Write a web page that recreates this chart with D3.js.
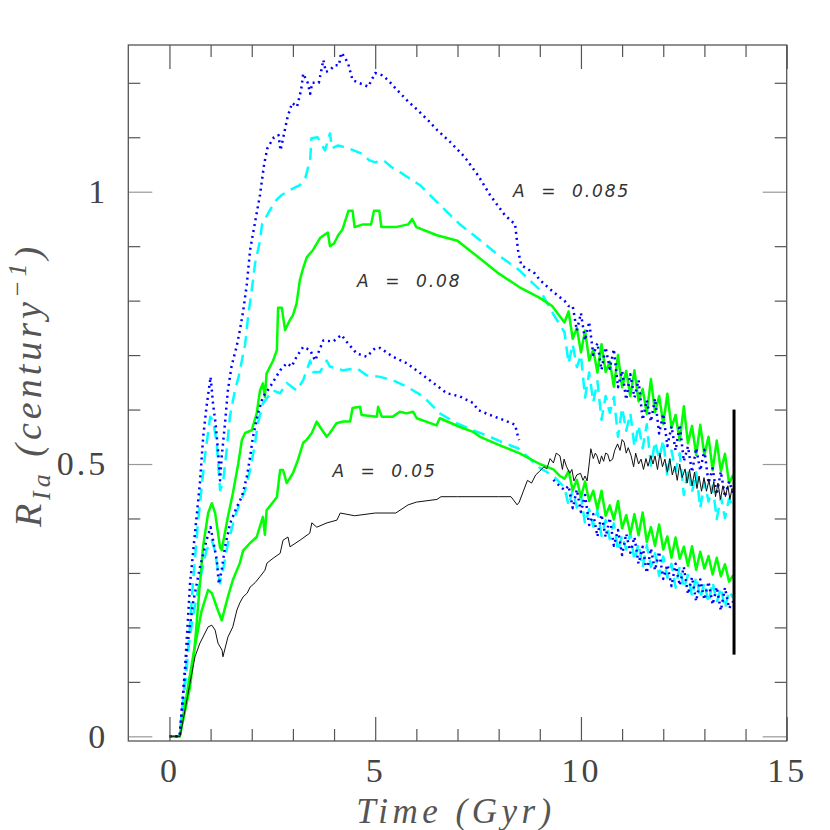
<!DOCTYPE html>
<html>
<head>
<meta charset="utf-8">
<script src="https://cdn.jsdelivr.net/npm/d3@7"></script>
<style>
  body { margin: 0; background: white; }
  .serif { font-family: "Liberation Serif", "Times New Roman", Times, serif; }
</style>
</head>
<body>
<div id="chart"></div>
<script>
// ---- data: [time (Gyr), rate (century^-1)] ----
const blueHighHead = [[0,0],[0.25,0],[0.38,0.127],[0.5,0.28],[0.62,0.373],[0.74,0.465],[0.82,0.55],[0.9,0.605],[1.0,0.66],[1.06,0.61],[1.12,0.575],[1.18,0.525],[1.23,0.47],[1.27,0.513],[1.35,0.575],[1.42,0.635],[1.51,0.68],[1.63,0.715],[1.71,0.745],[1.79,0.78],[1.88,0.83],[1.96,0.893],[2.08,0.944],[2.2,0.994],[2.3,1.05],[2.38,1.08],[2.54,1.10],[2.65,1.104],[2.7,1.076],[2.87,1.137],[2.98,1.163],[3.1,1.156],[3.2,1.187],[3.25,1.217],[3.36,1.20],[3.42,1.18],[3.47,1.20],[3.63,1.20],[3.74,1.242],[3.8,1.22],[3.9,1.223],[4.01,1.232],[4.12,1.232],[4.17,1.255],[4.23,1.25],[4.34,1.236],[4.45,1.205],[4.6,1.20],[4.83,1.193],[5.0,1.218],[5.16,1.214],[5.31,1.205],[5.53,1.187],[5.81,1.165],[6.03,1.15],[6.3,1.13],[6.51,1.113],[6.84,1.09],[7.17,1.064],[7.5,1.03],[7.79,0.994],[8.15,0.957],[8.4,0.94],[8.47,0.893],[8.55,0.865],[8.88,0.85],[9.0,0.838],[9.25,0.821],[9.49,0.806]];
const cyanHighHead = [[0,0],[0.25,0],[0.42,0.122],[0.57,0.28],[0.69,0.39],[0.86,0.513],[0.99,0.587],[1.06,0.58],[1.15,0.538],[1.23,0.452],[1.3,0.465],[1.39,0.525],[1.47,0.587],[1.59,0.635],[1.68,0.66],[1.76,0.69],[1.84,0.72],[1.91,0.77],[2.0,0.82],[2.08,0.868],[2.2,0.91],[2.25,0.94],[2.44,0.966],[2.6,0.985],[2.73,0.994],[2.93,1.003],[3.17,1.012],[3.3,1.025],[3.42,1.058],[3.45,1.098],[3.6,1.10],[3.78,1.076],[3.9,1.107],[3.95,1.08],[4.1,1.085],[4.34,1.08],[4.67,1.07],[4.85,1.058],[5.0,1.054],[5.2,1.058],[5.4,1.045],[5.6,1.036],[6.09,1.012],[6.58,0.975],[7.06,0.94],[7.55,0.911],[8.0,0.883],[8.5,0.856],[9.0,0.82],[9.33,0.775]];
const greenHighHead = [[0,0],[0.25,0],[0.5,0.09],[0.62,0.17],[0.74,0.28],[0.82,0.35],[0.94,0.41],[1.03,0.428],[1.11,0.41],[1.23,0.347],[1.27,0.342],[1.42,0.403],[1.54,0.446],[1.67,0.5],[1.76,0.544],[1.84,0.557],[2.0,0.562],[2.12,0.593],[2.2,0.635],[2.27,0.648],[2.32,0.623],[2.36,0.666],[2.52,0.69],[2.61,0.709],[2.64,0.787],[2.73,0.787],[2.81,0.746],[2.93,0.765],[3.0,0.773],[3.09,0.795],[3.17,0.838],[3.25,0.86],[3.34,0.88],[3.49,0.893],[3.66,0.915],[3.75,0.92],[3.85,0.925],[3.9,0.90],[4.0,0.905],[4.1,0.92],[4.2,0.93],[4.35,0.965],[4.45,0.965],[4.5,0.935],[4.7,0.94],[4.9,0.94],[4.97,0.965],[5.1,0.965],[5.15,0.935],[5.5,0.935],[5.8,0.94],[5.9,0.95],[6.0,0.935],[6.5,0.92],[7.0,0.91],[7.5,0.88],[8.0,0.85],[8.5,0.825],[9.0,0.805],[9.3,0.79],[9.5,0.77]];

const blueLowHead = [[0,0],[0.25,0],[0.42,0.156],[0.57,0.244],[0.74,0.31],[0.9,0.36],[1.0,0.384],[1.06,0.36],[1.15,0.324],[1.2,0.28],[1.27,0.305],[1.35,0.348],[1.47,0.39],[1.63,0.42],[1.76,0.44],[1.88,0.476],[1.96,0.513],[2.03,0.55],[2.15,0.593],[2.27,0.623],[2.44,0.641],[2.69,0.672],[2.85,0.685],[2.97,0.679],[3.09,0.697],[3.25,0.715],[3.42,0.709],[3.54,0.69],[3.74,0.727],[3.98,0.725],[4.18,0.737],[4.3,0.725],[4.55,0.703],[4.79,0.697],[5.0,0.713],[5.12,0.713],[5.43,0.697],[5.77,0.685],[6.09,0.667],[6.41,0.649],[6.74,0.63],[7.06,0.624],[7.38,0.612],[7.5,0.599],[7.79,0.59],[8.15,0.58],[8.4,0.572],[8.47,0.55],[8.5,0.544]];
const blueLowRestart = [[9.33,0.471],[9.45,0.462]];
const cyanLowHead = [[0,0],[0.25,0],[0.42,0.14],[0.57,0.22],[0.74,0.287],[0.9,0.342],[1.03,0.36],[1.1,0.342],[1.18,0.305],[1.23,0.281],[1.3,0.305],[1.42,0.354],[1.59,0.403],[1.71,0.428],[1.84,0.452],[1.96,0.489],[2.08,0.538],[2.15,0.575],[2.27,0.611],[2.39,0.623],[2.52,0.635],[2.69,0.63],[2.85,0.649],[3.09,0.635],[3.25,0.654],[3.42,0.69],[3.49,0.669],[3.66,0.669],[3.82,0.69],[3.9,0.679],[4.22,0.672],[4.55,0.676],[4.79,0.663],[5.12,0.66],[5.43,0.654],[5.77,0.642],[6.17,0.624],[6.57,0.593],[6.98,0.575],[7.38,0.562],[7.79,0.55],[8.15,0.538],[8.47,0.529],[9.0,0.493],[9.33,0.478],[9.5,0.465]];
const greenLowHead = [[0,0],[0.25,0],[0.57,0.145],[0.78,0.23],[0.94,0.269],[1.03,0.263],[1.15,0.237],[1.27,0.213],[1.42,0.256],[1.54,0.287],[1.71,0.318],[1.79,0.341],[1.96,0.355],[2.12,0.366],[2.27,0.403],[2.32,0.370],[2.36,0.415],[2.61,0.439],[2.69,0.489],[2.76,0.489],[2.85,0.465],[3.0,0.483],[3.12,0.507],[3.25,0.539],[3.33,0.544],[3.46,0.557],[3.58,0.578],[3.66,0.568],[3.82,0.55],[3.9,0.557],[4.06,0.575],[4.22,0.578],[4.39,0.578],[4.45,0.603],[4.63,0.605],[4.67,0.59],[5.04,0.587],[5.07,0.605],[5.16,0.587],[5.43,0.587],[5.6,0.596],[5.76,0.593],[5.92,0.596],[6.01,0.584],[6.49,0.571],[6.57,0.584],[7.06,0.568],[7.38,0.559],[7.55,0.55],[8.0,0.535],[8.5,0.52],[9.0,0.50],[9.33,0.49],[9.49,0.478]];

// noisy late-time parts, sampled every 0.1 Gyr
const tailTimes = [9.6,9.7,9.8,9.9,10.0,10.1,10.2,10.3,10.4,10.5,10.6,10.7,10.8,10.9,11.0,11.1,11.2,11.3,11.4,11.5,11.6,11.7,11.8,11.9,12.0,12.1,12.2,12.3,12.4,12.5,12.6,12.7,12.8,12.9,13.0,13.1,13.2,13.3,13.4,13.5,13.6,13.7];
const greenHighTail = [0.76,0.78,0.73,0.75,0.705,0.745,0.69,0.71,0.668,0.72,0.669,0.688,0.642,0.70,0.641,0.671,0.625,0.672,0.615,0.638,0.592,0.656,0.595,0.625,0.574,0.629,0.567,0.59,0.543,0.606,0.538,0.57,0.517,0.572,0.516,0.55,0.489,0.543,0.487,0.519,0.465,0.48];
const blueHighTail = [0.80,0.79,0.79,0.745,0.777,0.727,0.761,0.70,0.722,0.673,0.714,0.675,0.711,0.641,0.671,0.618,0.665,0.622,0.654,0.581,0.617,0.578,0.62,0.556,0.592,0.533,0.569,0.525,0.572,0.505,0.532,0.485,0.529,0.488,0.526,0.465,0.492,0.444,0.486,0.44,0.468,0.447];
const cyanHighTail = [0.742,0.685,0.72,0.678,0.70,0.622,0.668,0.614,0.652,0.581,0.625,0.594,0.623,0.55,0.603,0.561,0.593,0.532,0.571,0.529,0.573,0.497,0.541,0.51,0.544,0.477,0.525,0.487,0.52,0.443,0.49,0.448,0.485,0.419,0.467,0.431,0.46,0.399,0.44,0.401,0.436,0.422];
const greenLowTail = [0.473,0.487,0.452,0.471,0.439,0.468,0.432,0.451,0.417,0.451,0.405,0.424,0.398,0.432,0.382,0.406,0.372,0.408,0.369,0.411,0.357,0.384,0.35,0.389,0.343,0.367,0.328,0.365,0.326,0.348,0.313,0.349,0.306,0.339,0.308,0.331,0.297,0.328,0.294,0.316,0.284,0.296];
const cyanLowTail = [0.457,0.424,0.452,0.42,0.442,0.39,0.417,0.385,0.414,0.368,0.397,0.362,0.391,0.34,0.369,0.343,0.373,0.323,0.354,0.31,0.351,0.311,0.336,0.295,0.33,0.291,0.317,0.273,0.312,0.272,0.296,0.257,0.293,0.254,0.282,0.245,0.283,0.246,0.273,0.235,0.267,0.254];
const blueLowTail = [0.452,0.46,0.419,0.453,0.412,0.443,0.388,0.408,0.367,0.407,0.366,0.401,0.35,0.379,0.333,0.372,0.337,0.366,0.317,0.348,0.30,0.345,0.305,0.339,0.289,0.315,0.276,0.317,0.277,0.311,0.261,0.292,0.248,0.288,0.251,0.284,0.242,0.274,0.231,0.273,0.235,0.248];

const blackRate = [[0,0],[0.26,0],[0.5,0.098],[0.62,0.146],[0.74,0.171],[0.94,0.201],[1.03,0.204],[1.11,0.195],[1.18,0.171],[1.28,0.158],[1.3,0.146],[1.42,0.182],[1.54,0.201],[1.64,0.232],[1.71,0.245],[1.79,0.256],[1.89,0.263],[1.96,0.274],[2.08,0.282],[2.2,0.293],[2.32,0.305],[2.37,0.318],[2.52,0.327],[2.69,0.336],[2.76,0.36],[2.88,0.366],[2.93,0.348],[3.17,0.36],[3.41,0.373],[3.46,0.392],[3.58,0.384],[3.83,0.392],[4.07,0.397],[4.15,0.41],[4.5,0.405],[5.0,0.41],[5.5,0.41],[5.8,0.425],[6.0,0.43],[6.5,0.435],[6.6,0.44],[7.0,0.44],[7.5,0.44],[8.0,0.44],[8.3,0.44],[8.45,0.425],[8.5,0.43],[8.6,0.45],[8.7,0.47],[8.8,0.465],[8.9,0.48],[9.0,0.487],[9.1,0.495],[9.17,0.491],[9.25,0.51],[9.33,0.502],[9.4,0.52],[9.49,0.515],[9.55,0.49],[9.59,0.509],[9.65,0.495],[9.73,0.483],[9.78,0.49],[9.83,0.469],[9.9,0.48],[9.99,0.483],[10.05,0.47],[10.1,0.478],[10.15,0.469],[10.2,0.50],[10.24,0.528],[10.3,0.51],[10.35,0.52],[10.39,0.515],[10.45,0.50],[10.5,0.515],[10.55,0.505],[10.6,0.52],[10.65,0.518],[10.7,0.505],[10.77,0.509],[10.82,0.525],[10.89,0.537],[10.95,0.525],[11.0,0.545],[11.05,0.54],[11.1,0.52],[11.15,0.53],[11.22,0.515],[11.28,0.495],[11.33,0.52],[11.4,0.5],[11.46,0.509],[11.52,0.49],[11.58,0.51],[11.63,0.496],[11.7,0.515],[11.75,0.5],[11.8,0.515],[11.86,0.49],[11.92,0.52],[11.98,0.495],[12.04,0.509],[12.1,0.485],[12.16,0.51],[12.22,0.48],[12.28,0.496],[12.34,0.47],[12.4,0.5],[12.46,0.475],[12.53,0.491],[12.58,0.465],[12.64,0.49],[12.7,0.46],[12.76,0.485],[12.82,0.455],[12.87,0.478],[12.93,0.45],[12.99,0.475],[13.05,0.45],[13.11,0.47],[13.17,0.445],[13.23,0.468],[13.27,0.44],[13.33,0.465],[13.39,0.435],[13.45,0.46],[13.51,0.44],[13.57,0.46],[13.62,0.435],[13.67,0.455],[13.72,0.447]];

// observed range (vertical bar)
const obsTime = 13.72;
const obsRange = [0.15, 0.6];

const labels = [
  {text: "A  =  0.085", t: 8.35, r: 0.99},
  {text: "A  =  0.08", t: 4.56, r: 0.825},
  {text: "A  =  0.05", t: 3.96, r: 0.476}
];

const xMajor = [0, 5, 10, 15];
const xMinor = [1, 2, 3, 4, 6, 7, 8, 9, 11, 12, 13, 14];
const yMajor = [0, 0.5, 1];
const yMinor = [0.1, 0.2, 0.3, 0.4, 0.6, 0.7, 0.8, 0.9, 1.1, 1.2];

// ---- layout ----
let width = 830, height = 830;
let margin = {top: 45, bottom: 89, left: 128.3, right: 43.3};

let svg = d3.select('#chart')
    .append('svg')
    .attr('width', width)
    .attr('height', height)
    .style('background', 'white');

let xScale = d3.scaleLinear()
    .domain([-1, 15])
    .range([margin.left, width - margin.right]);

let yScale = d3.scaleLinear()
    .domain([-0.0086, 1.2694])
    .range([height - margin.bottom, margin.top]);

const withTail = (head, tail) => head.concat(tailTimes.map((t, i) => [t, tail[i]]));

const series = [
  {data: withTail(cyanLowHead, cyanLowTail), color: '#00ffff', dash: '12,7', w: 2.5},
  {data: withTail(cyanHighHead, cyanHighTail), color: '#00ffff', dash: '12,7', w: 2.5},
  {data: withTail(greenLowHead, greenLowTail), color: '#00ff00', dash: null, w: 2.5},
  {data: withTail(greenHighHead, greenHighTail), color: '#00ff00', dash: null, w: 2.5},
  {data: blueLowHead, color: '#0000ff', dash: '2,4', w: 2.5},
  {data: withTail(blueLowRestart, blueLowTail), color: '#0000ff', dash: '2,4', w: 2.5},
  {data: withTail(blueHighHead, blueHighTail), color: '#0000ff', dash: '2,4', w: 2.5},
  {data: blackRate, color: '#111', dash: null, w: 1}
];

svg.append('clipPath').attr('id', 'plotclip')
  .append('rect')
  .attr('x', margin.left).attr('y', margin.top)
  .attr('width', width - margin.left - margin.right)
  .attr('height', height - margin.top - margin.bottom);

const line = d3.line()
    .x(d => xScale(d[0]))
    .y(d => yScale(d[1]));

const plot = svg.append('g').attr('clip-path', 'url(#plotclip)');

series.forEach(s => {
  plot.append('path')
    .datum(s.data)
    .attr('d', line)
    .attr('fill', 'none')
    .attr('stroke', s.color)
    .attr('stroke-width', s.w)
    .attr('stroke-dasharray', s.dash)
    .attr('stroke-linejoin', 'round');
});

// observed rate bar
plot.append('line')
  .attr('x1', xScale(obsTime)).attr('x2', xScale(obsTime))
  .attr('y1', yScale(obsRange[0])).attr('y2', yScale(obsRange[1]))
  .attr('stroke', 'black')
  .attr('stroke-width', 3);

// ---- axes: ticks on all four sides, pointing inward ----
const tickColor = '#555';
const bottomY = height - margin.bottom, rightX = width - margin.right;

function styleAxis(g, color) {
  g.select('.domain').remove();
  g.selectAll('.tick line').attr('stroke', color).attr('stroke-width', 1.2);
}

svg.append('g').attr('transform', `translate(0,${bottomY})`)
  .call(d3.axisBottom(xScale).tickValues(xMinor).tickSize(-12).tickFormat(''))
  .call(g => styleAxis(g, tickColor));
svg.append('g').attr('transform', `translate(0,${bottomY})`)
  .call(d3.axisBottom(xScale).tickValues(xMajor).tickSize(-24).tickPadding(17).tickFormat(d3.format('d')))
  .call(g => styleAxis(g, tickColor));
svg.append('g').attr('transform', `translate(0,${margin.top})`)
  .call(d3.axisTop(xScale).tickValues(xMinor).tickSize(-12).tickFormat(''))
  .call(g => styleAxis(g, tickColor));
svg.append('g').attr('transform', `translate(0,${margin.top})`)
  .call(d3.axisTop(xScale).tickValues(xMajor).tickSize(-24).tickFormat(''))
  .call(g => styleAxis(g, tickColor));

svg.append('g').attr('transform', `translate(${margin.left},0)`)
  .call(d3.axisLeft(yScale).tickValues(yMinor).tickSize(-12).tickFormat(''))
  .call(g => styleAxis(g, tickColor));
svg.append('g').attr('transform', `translate(${margin.left},0)`)
  .call(d3.axisLeft(yScale).tickValues(yMajor).tickSize(-24).tickPadding(20).tickFormat(d => d === 0.5 ? '0.5' : d3.format('d')(d)))
  .call(g => styleAxis(g, '#999'));
svg.append('g').attr('transform', `translate(${rightX},0)`)
  .call(d3.axisRight(yScale).tickValues(yMinor).tickSize(-12).tickFormat(''))
  .call(g => styleAxis(g, tickColor));
svg.append('g').attr('transform', `translate(${rightX},0)`)
  .call(d3.axisRight(yScale).tickValues(yMajor).tickSize(-24).tickFormat(''))
  .call(g => styleAxis(g, '#999'));

svg.selectAll('.tick text')
  .attr('class', 'serif')
  .attr('font-family', null)
  .attr('font-size', 34)
  .attr('letter-spacing', 3)
  .attr('fill', '#444');

// frame
svg.append('rect')
  .attr('x', margin.left).attr('y', margin.top)
  .attr('width', rightX - margin.left)
  .attr('height', bottomY - margin.top)
  .attr('fill', 'none')
  .attr('stroke', '#555')
  .attr('stroke-width', 1.3);

// annotations
labels.forEach(l => {
  svg.append('text')
    .attr('x', xScale(l.t))
    .attr('y', yScale(l.r))
    .style('white-space', 'pre')
    .style('font-family', '"DejaVu Sans", sans-serif')
    .attr('font-style', 'oblique')
    .attr('font-size', 17)
    .attr('letter-spacing', 1.9)
    .attr('fill', '#333')
    .text(l.text);
});

// axis titles
svg.append('text')
  .attr('class', 'serif')
  .attr('x', 456)
  .attr('y', 823)
  .attr('text-anchor', 'middle')
  .attr('font-style', 'italic')
  .attr('font-size', 35)
  .attr('letter-spacing', 4.5)
  .attr('fill', '#555')
  .text('Time (Gyr)');

let ylab = svg.append('text')
  .attr('class', 'serif')
  .attr('transform', 'translate(41,385) rotate(-90)')
  .attr('text-anchor', 'middle')
  .attr('font-style', 'italic')
  .attr('font-size', 38)
  .attr('letter-spacing', 4)
  .attr('fill', '#555');
ylab.append('tspan').text('R');
ylab.append('tspan').attr('dy', 9).attr('font-size', 26).text('Ia');
ylab.append('tspan').attr('dy', -9).text(' (century');
ylab.append('tspan').attr('dy', -15).attr('font-size', 26).text('\u22121');
ylab.append('tspan').attr('dy', 15).text(')');
</script>
</body>
</html>
